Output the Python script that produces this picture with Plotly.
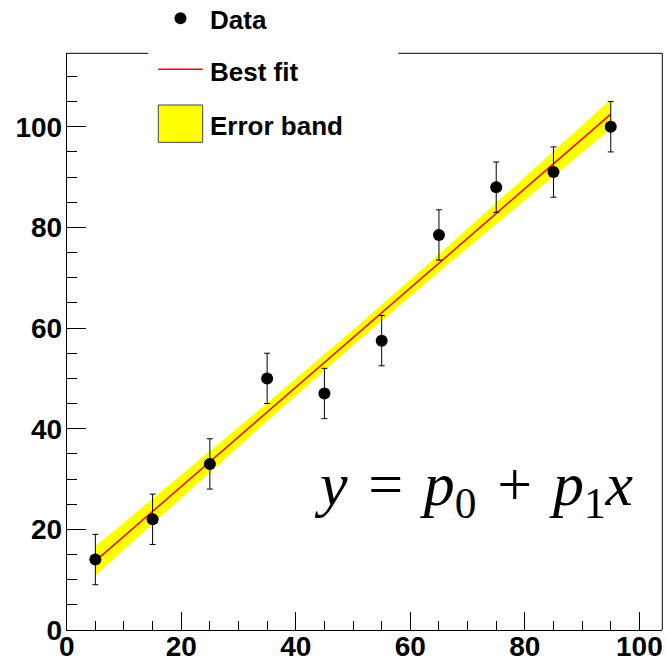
import numpy as np
import plotly.graph_objects as go

# ---- data ----
x_vals = [5, 15, 25, 35, 45, 55, 65, 75, 85, 95]
y_vals = [14, 22, 33, 50, 47, 57.5, 78.5, 88, 91, 100]
y_err = [5, 5, 5, 5, 5, 5, 5, 5, 5, 5]
legend_labels = ["Data", "Best fit", "Error band"]
formula_text = ("<i>y</i>&#8202; = &#8202;<i>p</i><sub>0</sub>&#8202; + &#8202;"
                "<i>p</i><sub>1</sub><i>x</i>")
x_range = [0, 104]
y_range = [0, 114.6]

# ---- straight-line fit (weighted least squares) and 1-sigma band ----
x = np.array(x_vals, float)
y = np.array(y_vals, float)
e = np.array(y_err, float)
w = 1.0 / e**2
A = np.vstack([np.ones_like(x), x]).T
cov = np.linalg.inv(A.T @ (A * w[:, None]))
p = cov @ (A.T @ (w * y))
xf = np.linspace(min(x_vals), max(x_vals), 61)
yf = p[0] + p[1] * xf
sf = np.sqrt(cov[0, 0] + 2 * xf * cov[0, 1] + xf**2 * cov[1, 1])

W, H = 666, 664
def px(v):
    return v / W
def py(v):
    return (H - v) / H

fig = go.Figure()
fig.add_trace(go.Scatter(
    x=np.concatenate([xf, xf[::-1]]),
    y=np.concatenate([yf + sf, (yf - sf)[::-1]]),
    fill="toself", fillcolor="#ffff00", line=dict(width=0),
    mode="lines", hoverinfo="skip", showlegend=False))
fig.add_trace(go.Scatter(
    x=xf, y=yf, mode="lines", line=dict(color="#ff0000", width=1.5),
    showlegend=False))
fig.add_trace(go.Scatter(
    x=x_vals, y=y_vals, mode="markers",
    marker=dict(color="black", size=12),
    error_y=dict(type="data", array=y_err, color="black", thickness=1, width=3),
    showlegend=False))

x0d, x1d = 66.7, 662.3
ytop, ybot = 53.3, 630.0

axis_font = dict(family="Liberation Sans", size=28, color="black", weight="bold")
fig.update_layout(
    width=W, height=H, margin=dict(l=0, r=0, t=0, b=0, autoexpand=False),
    paper_bgcolor="white", plot_bgcolor="white",
    xaxis=dict(domain=[px(x0d), px(x1d)], range=x_range, showgrid=False, zeroline=False,
               automargin=False,
               showline=True, linecolor="black", linewidth=1,
               tick0=0, dtick=20, ticks="inside", ticklen=18, tickcolor="black",
               minor=dict(dtick=5, tick0=0, ticks="inside", ticklen=9, tickcolor="black"),
               tickfont=axis_font, ticklabelstandoff=-9),
    yaxis=dict(domain=[py(ybot), py(ytop)], range=y_range, showgrid=False, zeroline=False,
               automargin=False,
               showline=True, linecolor="black", linewidth=1,
               tick0=0, dtick=20, ticks="inside", ticklen=19, tickcolor="black",
               minor=dict(dtick=5, tick0=0, ticks="inside", ticklen=10, tickcolor="black"),
               tickfont=axis_font, ticklabelstandoff=-2),
)

shapes = []
# right frame line and top frame segments (gap for legend)
shapes.append(dict(type="line", xref="paper", yref="paper", x0=px(x1d), x1=px(x1d),
                   y0=py(ybot), y1=py(ytop), line=dict(color="black", width=1)))
shapes.append(dict(type="line", xref="paper", yref="paper", x0=px(x0d), x1=px(148.3),
                   y0=py(ytop), y1=py(ytop), line=dict(color="black", width=1)))
shapes.append(dict(type="line", xref="paper", yref="paper", x0=px(398.3), x1=px(x1d),
                   y0=py(ytop), y1=py(ytop), line=dict(color="black", width=1)))
# legend symbols
shapes.append(dict(type="circle", xref="paper", yref="paper",
                   x0=px(180.5 - 6), x1=px(180.5 + 6), y0=py(18.3 + 6), y1=py(18.3 - 6),
                   fillcolor="black", line=dict(width=0)))
shapes.append(dict(type="line", xref="paper", yref="paper", x0=px(158.3), x1=px(202.7),
                   y0=py(69.3), y1=py(69.3), line=dict(color="#ff0000", width=1.5)))
shapes.append(dict(type="rect", xref="paper", yref="paper", x0=px(158.3), x1=px(202.7),
                   y0=py(142.3), y1=py(105), fillcolor="#ffff00",
                   line=dict(color="#444444", width=1)))
fig.update_layout(shapes=shapes)

leg_font = dict(family="Liberation Sans", size=26, color="black", weight="bold")
for lab, yc in zip(legend_labels, [20, 72, 126]):
    fig.add_annotation(x=px(208), y=py(yc), xref="paper", yref="paper", text=lab,
                       showarrow=False, xanchor="left", yanchor="middle", font=leg_font)

fig.add_annotation(x=px(312), y=py(488), xref="paper", yref="paper", text=formula_text,
                   showarrow=False, xanchor="left", yanchor="middle",
                   font=dict(family="Liberation Serif", size=62, color="black"))

fig.write_html("out.html")
